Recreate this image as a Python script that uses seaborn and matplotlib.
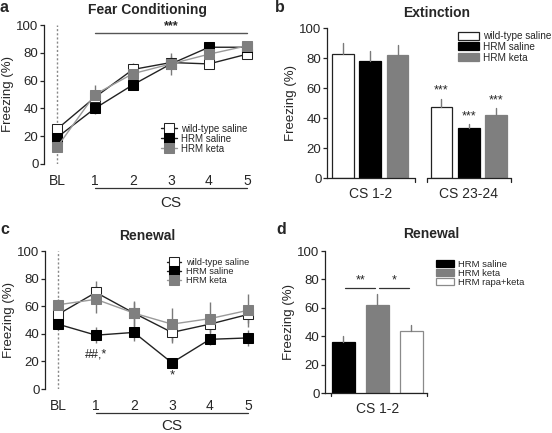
import numpy as np
import pandas as pd
import matplotlib
matplotlib.use("Agg")
import matplotlib.pyplot as plt
import matplotlib.transforms as mtransforms
import seaborn as sns

# ---- data ----
cs_labels = ['BL', '1', '2', '3', '4', '5']
line_groups = ['wild-type saline', 'HRM saline', 'HRM keta']

# a: fear conditioning
fc_wt = [25, 48, 68, 73, 72, 79]
fc_wt_err = [3, 4, 5, 5, 4, 3]
fc_sal = [19, 40, 57, 72, 84, 84]
fc_sal_err = [3, 4, 4, 4, 3, 3]
fc_keta = [12, 50, 65, 72, 79, 85]
fc_keta_err = [3, 7, 6, 8, 5, 3]

# b: extinction
ext_phases = ['CS 1-2', 'CS 23-24']
ext_wt = [83, 47.5]
ext_wt_err = [7, 5.5]
ext_sal = [78, 33.5]
ext_sal_err = [7, 2.5]
ext_keta = [82, 42]
ext_keta_err = [7, 4.7]
ext_stars = ['', '***']

# c: renewal
rn_wt = [54, 70, 55, 41, 47, 54]
rn_wt_err = [3, 8, 8, 8, 6, 6]
rn_sal = [47, 39, 41, 19, 36, 37]
rn_sal_err = [3, 6, 6, 2, 4, 6]
rn_keta = [61, 65, 55, 47, 51, 57]
rn_keta_err = [4, 10, 9, 12, 12, 12]

# d: renewal, rapamycin
d_groups = ['HRM saline', 'HRM keta', 'HRM rapa+keta']
d_vals = [36, 62, 44]
d_err = [4, 8, 4]

# ---- style ----
sns.set_style('white')
plt.rcParams['font.family'] = ['Liberation Sans', 'DejaVu Sans']
plt.rcParams['axes.linewidth'] = 0.9
plt.rcParams['axes.edgecolor'] = '#222222'

W, H = 552, 433
fig = plt.figure(figsize=(W / 100, H / 100), dpi=100)


def box(l, t, r, b):
    return [l / W, 1 - b / H, (r - l) / W, (b - t) / H]


FS = 10
YFS = 9.5
ERR = '#7a7a7a'
GRAY = '#7f7f7f'
line_style = {
    'wild-type saline': dict(color='#222222', markerfacecolor='white', markeredgecolor='#222222'),
    'HRM saline': dict(color='#222222', markerfacecolor='black', markeredgecolor='black'),
    'HRM keta': dict(color='#9a9a9a', markerfacecolor=GRAY, markeredgecolor=GRAY),
}


def style_y(ax):
    ax.set_ylim(0, 100)
    ax.set_yticks(range(0, 101, 20))
    ax.tick_params(axis='y', length=3, width=0.9, pad=1, labelsize=YFS, left=True, direction='out')
    ax.set_xlabel('')
    ax.set_ylabel('Freezing (%)', fontsize=YFS, labelpad=1.5)


def line_panel(ax, series, cs_y, legend_kw):
    x = np.arange(len(cs_labels))
    ax.plot([0, 0], [0, 100], color='#888888', lw=1, ls=(0, (1.5, 1.5)), zorder=1)
    for name, (vals, err) in zip(line_groups, series):
        ax.errorbar(x, vals, yerr=err, fmt='none', ecolor=ERR, elinewidth=1, capsize=0,
                    zorder=2, clip_on=False)
    for name, (vals, err) in zip(line_groups, series):
        df = pd.DataFrame({'pos': x, 'freezing': vals})
        sns.lineplot(data=df, x='pos', y='freezing', ax=ax, marker='s', markersize=6.5,
                     lw=1, label=name, zorder=3, clip_on=False, **line_style[name])
    ax.set_xlim(-0.34, 5.15)
    ax.set_xticks(x)
    ax.set_xticklabels(cs_labels)
    ax.tick_params(axis='x', length=0, pad=7, labelsize=FS)
    for s in ['top', 'right', 'bottom']:
        ax.spines[s].set_visible(False)
    style_y(ax)
    trans = mtransforms.blended_transform_factory(ax.transData, ax.transAxes)
    ax.plot([1, 5], [-0.175, -0.175], color='#333333', lw=0.9, transform=trans, clip_on=False)
    ax.text(3, cs_y, 'CS', ha='center', va='center', fontsize=FS + 1, transform=trans)
    ax.legend(frameon=False, handlelength=1.6, handletextpad=0.5, borderpad=0, **legend_kw)


# ---- a ----
ax_a = fig.add_axes(box(44, 25, 252.6, 164))
line_panel(ax_a, [(fc_wt, fc_wt_err), (fc_sal, fc_sal_err), (fc_keta, fc_keta_err)], -0.28,
           dict(loc='lower right', bbox_to_anchor=(1.0, 0.04), labelspacing=0.0, fontsize=7))
ax_a.plot([1, 5], [94, 94], color='#555555', lw=1)
ax_a.text(3, 94.5, '***', ha='center', va='bottom', fontsize=9, fontweight='bold')

# ---- c ----
ax_c = fig.add_axes(box(45, 251, 253.6, 389))
line_panel(ax_c, [(rn_wt, rn_wt_err), (rn_sal, rn_sal_err), (rn_keta, rn_keta_err)], -0.27,
           dict(loc='upper right', bbox_to_anchor=(1.0, 0.98), labelspacing=0.0, fontsize=6.6))
ax_c.text(1, 25, '##,*', ha='center', va='center', fontsize=9)
ax_c.text(3, 10, '*', ha='center', va='center', fontsize=9.5)

# ---- b ----
ax_b = fig.add_axes(box(327, 28.3, 511, 178.3))
ext_vals = [ext_wt, ext_sal, ext_keta]
ext_errs = [ext_wt_err, ext_sal_err, ext_keta_err]
df_b = pd.DataFrame([(p, g, ext_vals[gi][pi]) for gi, g in enumerate(line_groups)
                     for pi, p in enumerate(ext_phases)], columns=['phase', 'group', 'freezing'])
sns.barplot(data=df_b, x='phase', y='freezing', hue='group', hue_order=line_groups,
            order=ext_phases, palette=['white', 'black', GRAY], errorbar=None,
            width=0.83, gap=0.2, legend=False, ax=ax_b)
b_edges = ['#222222', 'black', GRAY]
for gi, cont in enumerate(ax_b.containers):
    for pi, bar in enumerate(cont):
        bar.set_edgecolor(b_edges[gi])
        bar.set_linewidth(0.9)
        cx = bar.get_x() + bar.get_width() / 2
        top = bar.get_height()
        e = ext_errs[gi][pi]
        ax_b.plot([cx, cx], [top, top + e], color=ERR, lw=1, zorder=1)
        if ext_stars[pi]:
            ax_b.text(cx, top + e + 1.5, ext_stars[pi], ha='center', va='bottom', fontsize=9)
ax_b.set_xlim(-0.44, 1.43)
ax_b.tick_params(axis='x', length=0, pad=6.5, labelsize=FS)
for s in ['top', 'right', 'bottom']:
    ax_b.spines[s].set_visible(False)
for i, (x0, x1) in enumerate([(-0.44, 0.455), (0.575, 1.43)]):
    ax_b.plot([x0, x1], [0, 0], color='#222222', lw=0.9, clip_on=False)
    for xe in (x0, x1):
        if i == 0 and xe == x0:
            continue
        ax_b.plot([xe, xe], [0, -2.2], color='#222222', lw=0.9, clip_on=False)
style_y(ax_b)
ax_b.legend(ax_b.containers, line_groups, frameon=False, fontsize=7.2, loc='upper left',
            bbox_to_anchor=(453 / W, 1 - 26 / H), bbox_transform=fig.transFigure,
            handlelength=2.1, handleheight=0.85, handletextpad=0.4, labelspacing=0.08, borderpad=0)

# ---- d ----
ax_d = fig.add_axes(box(325, 251, 427, 393.3))
df_d = pd.DataFrame({'phase': ['CS 1-2'] * 3, 'group': d_groups, 'freezing': d_vals})
sns.barplot(data=df_d, x='phase', y='freezing', hue='group', hue_order=d_groups,
            palette=['black', GRAY, 'white'], errorbar=None, width=0.8, gap=0.32,
            legend=False, ax=ax_d)
d_edges = ['black', GRAY, '#8a8a8a']
centers = []
for gi, cont in enumerate(ax_d.containers):
    bar = cont[0]
    bar.set_edgecolor(d_edges[gi])
    bar.set_linewidth(0.9)
    cx = bar.get_x() + bar.get_width() / 2
    centers.append(cx)
    ax_d.plot([cx, cx], [d_vals[gi], d_vals[gi] + d_err[gi]], color=ERR, lw=1, zorder=1)
for (c0, c1), star in zip([(centers[0], centers[1]), (centers[1], centers[2])], ['**', '*']):
    ax_d.plot([c0 + 0.01, c1 - 0.02], [74, 74], color='#333333', lw=0.9)
    ax_d.text((c0 + c1) / 2, 75, star, ha='center', va='bottom', fontsize=9)
ax_d.set_xlim(-0.41, 0.39)
ax_d.tick_params(axis='x', length=0, pad=6.5, labelsize=FS)
for s in ['top', 'right']:
    ax_d.spines[s].set_visible(False)
for xe in (-0.36, 0.39):
    ax_d.plot([xe, xe], [0, -2.2], color='#222222', lw=0.9, clip_on=False)
style_y(ax_d)
ax_d.legend(ax_d.containers, d_groups, frameon=False, fontsize=6.8, loc='upper left',
            bbox_to_anchor=(431 / W, 1 - 255 / H), bbox_transform=fig.transFigure,
            handlelength=1.9, handleheight=0.7, handletextpad=0.5, labelspacing=0.0, borderpad=0)

# ---- titles and panel letters ----
fig.text(147 / W, 1 - 10 / H, 'Fear Conditioning', ha='center', va='center',
         fontsize=10, fontweight='bold')
fig.text(437 / W, 1 - 13 / H, 'Extinction', ha='center', va='center', fontsize=10, fontweight='bold')
fig.text(147 / W, 1 - 236 / H, 'Renewal', ha='center', va='center', fontsize=10, fontweight='bold')
fig.text(431 / W, 1 - 234 / H, 'Renewal', ha='center', va='center', fontsize=10, fontweight='bold')
for letter, (px, py) in zip('abcd', [(4, 8), (280, 8), (5, 230), (281, 229)]):
    fig.text(px / W, 1 - py / H, letter, ha='center', va='center', fontsize=11.5, fontweight='bold')

fig.savefig('out.png', dpi=100)
